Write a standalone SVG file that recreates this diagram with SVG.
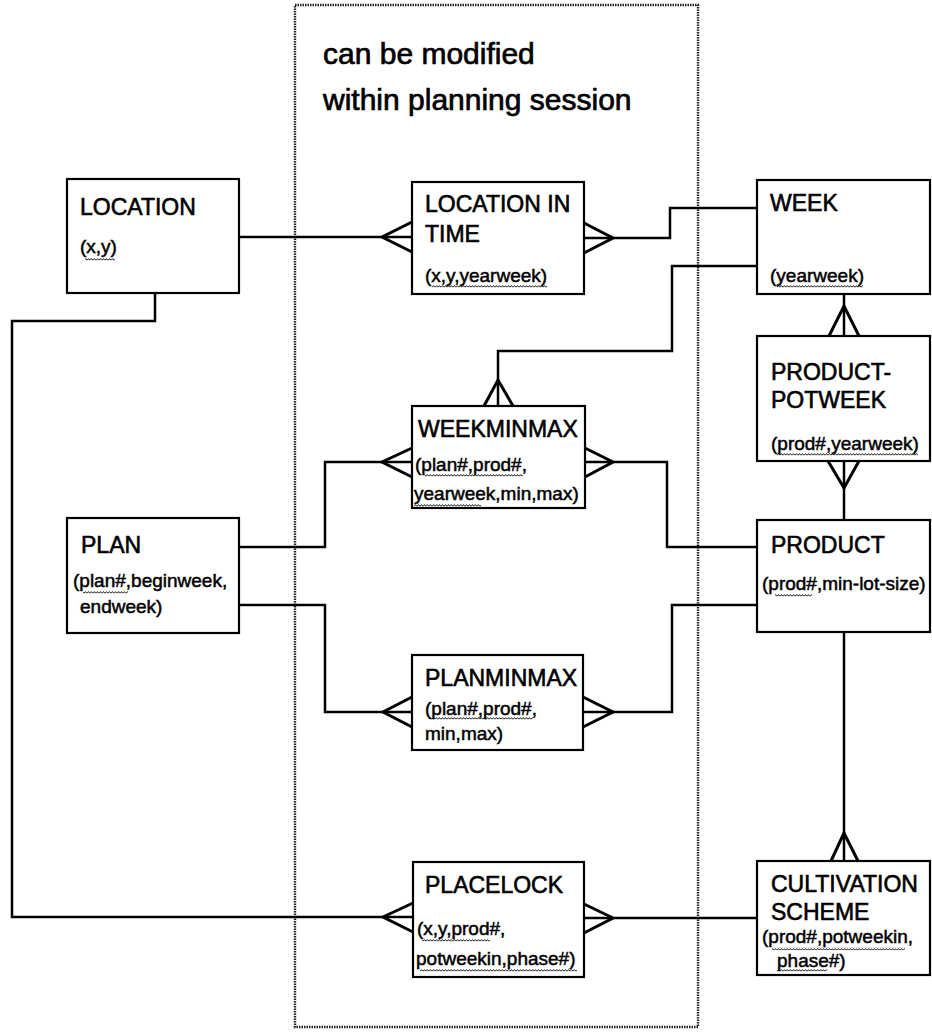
<svg xmlns="http://www.w3.org/2000/svg" width="932" height="1036" viewBox="0 0 932 1036">
  <style>
    .box { fill: #fff; stroke: #000; stroke-width: 2.2; }
    .lbl { font-family: "Liberation Sans", Arial, sans-serif; font-size: 23px; fill: #000; stroke: #000; stroke-width: 0.6; }
    .att { font-family: "Liberation Sans", Arial, sans-serif; font-size: 19px; fill: #000; stroke: #000; stroke-width: 0.5; }
    .title { font-family: "Liberation Sans", Arial, sans-serif; font-size: 30px; fill: #000; stroke: #000; stroke-width: 0.7; }
    .conn { fill: none; stroke: #000; stroke-width: 2.5; }
    .crow { fill: none; stroke: #000; stroke-width: 3; stroke-linejoin: miter; }
    .frame { fill: none; stroke: #222; stroke-width: 2.4; stroke-dasharray: 1.5 1; }
    .key { fill: url(#wavy); }
  </style>
  <defs>
    <!-- wavy key underline -->
    <pattern id="wavy" width="3" height="3" patternUnits="userSpaceOnUse">
      <path d="M0,2.4 L1.5,0.6 L3,2.4" fill="none" stroke="#000" stroke-width="0.9"/>
    </pattern>
  </defs>

  <!-- session boundary -->
  <g id="session-frame">
    <rect class="frame" x="295" y="5" width="403" height="1022"/>
    <text class="title" x="323" y="64">can be modified</text>
    <text class="title" x="323" y="110">within planning session</text>
  </g>

  <!-- relationships -->
  <g id="connectors">
    <!-- LOCATION - LOCATION IN TIME -->
    <path class="conn" d="M239,237 H412"/>
    <path class="crow" d="M412,222 L382,237 L412,252"/>
    <!-- WEEK - LOCATION IN TIME -->
    <path class="conn" d="M584,238 H670 V208 H757"/>
    <path class="crow" d="M584,223 L613,238 L584,253"/>
    <!-- WEEK - WEEKMINMAX -->
    <path class="conn" d="M757,266 H672 V351 H498 V406"/>
    <path class="crow" d="M484,406 L498,380 L513,406"/>
    <!-- WEEK - PRODUCT-POTWEEK -->
    <path class="conn" d="M844,294 V336"/>
    <path class="crow" d="M829,336 L844,306 L859,336"/>
    <!-- PRODUCT - PRODUCT-POTWEEK -->
    <path class="conn" d="M844,461 V520"/>
    <path class="crow" d="M828,461 L844,488 L859,461"/>
    <!-- PLAN - WEEKMINMAX -->
    <path class="conn" d="M239,547 H325 V462 H412"/>
    <path class="crow" d="M412,448 L382,462 L412,477"/>
    <!-- PRODUCT - WEEKMINMAX -->
    <path class="conn" d="M757,547 H667 V462 H585"/>
    <path class="crow" d="M585,448 L613,462 L585,477"/>
    <!-- PLAN - PLANMINMAX -->
    <path class="conn" d="M239,605 H325 V712 H412"/>
    <path class="crow" d="M412,697 L383,712 L412,727"/>
    <!-- PRODUCT - PLANMINMAX -->
    <path class="conn" d="M757,605 H672 V712 H583"/>
    <path class="crow" d="M583,697 L613,712 L583,727"/>
    <!-- PRODUCT - CULTIVATION SCHEME -->
    <path class="conn" d="M844,632 V861"/>
    <path class="crow" d="M831,861 L844,833 L858,861"/>
    <!-- LOCATION - PLACELOCK -->
    <path class="conn" d="M155,293 V321 H12 V917 H413"/>
    <path class="crow" d="M413,903 L383,917 L413,932"/>
    <!-- CULTIVATION SCHEME - PLACELOCK -->
    <path class="conn" d="M757,918 H584"/>
    <path class="crow" d="M584,904 L613,918 L584,933"/>
  </g>

  <g id="location">
    <rect class="box" x="67" y="179" width="172" height="114"/>
    <text class="lbl" x="80" y="215">LOCATION</text>
    <text class="att" x="80" y="253">(x,y)</text>
    <rect class="key" x="85" y="258" width="30" height="3"/>
  </g>

  <g id="location-in-time">
    <rect class="box" x="412" y="182" width="172" height="112"/>
    <text class="lbl" x="425" y="212">LOCATION IN</text>
    <text class="lbl" x="425" y="242">TIME</text>
    <text class="att" x="425" y="282">(x,y,yearweek)</text>
    <rect class="key" x="432" y="285" width="115" height="3"/>
  </g>

  <g id="week">
    <rect class="box" x="757" y="180" width="173" height="114"/>
    <text class="lbl" x="770" y="211">WEEK</text>
    <text class="att" x="770" y="282">(yearweek)</text>
    <rect class="key" x="777" y="285" width="86" height="3"/>
  </g>

  <g id="product-potweek">
    <rect class="box" x="757" y="336" width="173" height="125"/>
    <text class="lbl" x="771" y="380">PRODUCT-</text>
    <text class="lbl" x="771" y="408">POTWEEK</text>
    <text class="att" x="771" y="450">(prod#,yearweek)</text>
    <rect class="key" x="777" y="453" width="141" height="3"/>
  </g>

  <g id="weekminmax">
    <rect class="box" x="412" y="406" width="173" height="102"/>
    <text class="lbl" x="418" y="437">WEEKMINMAX</text>
    <text class="att" x="415" y="471">(plan#,prod#,</text>
    <rect class="key" x="425" y="474" width="98" height="3"/>
    <text class="att" x="414" y="500">yearweek,min,max)</text>
    <rect class="key" x="414" y="504" width="67" height="3"/>
  </g>

  <g id="plan">
    <rect class="box" x="67" y="518" width="172" height="115"/>
    <text class="lbl" x="81" y="553">PLAN</text>
    <text class="att" x="73" y="587">(plan#,beginweek,</text>
    <rect class="key" x="83" y="591" width="45" height="3"/>
    <text class="att" x="80" y="613">endweek)</text>
  </g>

  <g id="product">
    <rect class="box" x="757" y="520" width="173" height="112"/>
    <text class="lbl" x="771" y="553">PRODUCT</text>
    <text class="att" x="762" y="590">(prod#,min-lot-size)</text>
    <rect class="key" x="775" y="594" width="37" height="3"/>
  </g>

  <g id="planminmax">
    <rect class="box" x="412" y="655" width="171" height="95"/>
    <text class="lbl" x="425" y="686">PLANMINMAX</text>
    <text class="att" x="425" y="715">(plan#,prod#,</text>
    <rect class="key" x="430" y="717" width="103" height="3"/>
    <text class="att" x="425" y="740">min,max)</text>
  </g>

  <g id="placelock">
    <rect class="box" x="413" y="862" width="171" height="115"/>
    <text class="lbl" x="425" y="893">PLACELOCK</text>
    <text class="att" x="417" y="935">(x,y,prod#,</text>
    <rect class="key" x="422" y="939" width="68" height="3"/>
    <text class="att" x="416" y="965">potweekin,phase#)</text>
    <rect class="key" x="420" y="969" width="157" height="3"/>
  </g>

  <g id="cultivation-scheme">
    <rect class="box" x="757" y="861" width="173" height="114"/>
    <text class="lbl" x="771" y="892">CULTIVATION</text>
    <text class="lbl" x="771" y="920">SCHEME</text>
    <text class="att" x="762" y="943">(prod#,potweekin,</text>
    <rect class="key" x="772" y="947" width="133" height="3"/>
    <text class="att" x="777" y="967">phase#)</text>
    <rect class="key" x="777" y="969" width="50" height="3"/>
  </g>
</svg>
